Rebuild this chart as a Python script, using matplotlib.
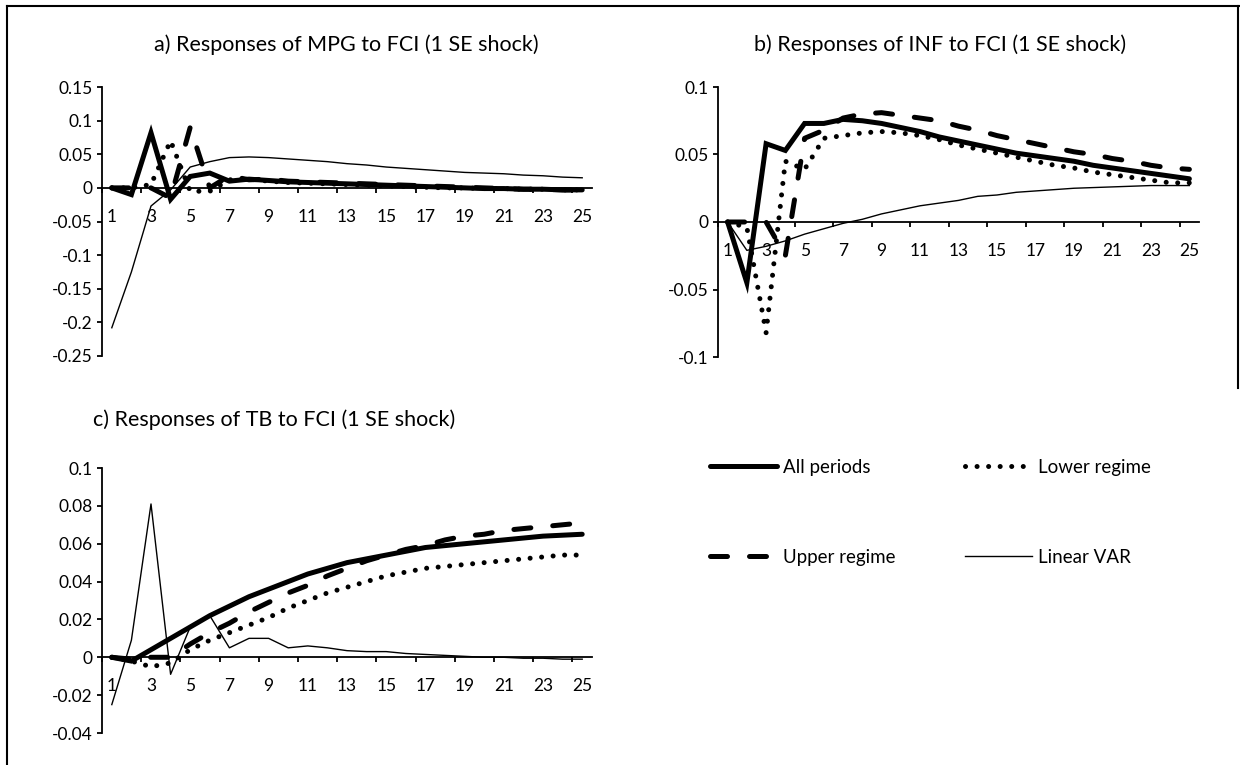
import numpy as np
import matplotlib.pyplot as plt
from matplotlib.lines import Line2D

plt.rcParams['font.family'] = ['Lato', 'DejaVu Sans']

periods = np.arange(1, 26)
xtick_labels = [str(p) for p in range(1, 26, 2)]

# a) MPG
all_a = [0, -0.01, 0.082, -0.017, 0.017, 0.022, 0.010, 0.013, 0.011, 0.009, 0.008, 0.007, 0.006,
         0.005, 0.004, 0.003, 0.002, 0.001, 0.000, -0.001, -0.001, -0.002, -0.002, -0.003, -0.003]
lower_a = [0, 0, 0.005, 0.070, -0.005, -0.005, 0.012, 0.013, 0.010, 0.008, 0.007, 0.006, 0.005,
           0.004, 0.003, 0.002, 0.001, 0.000, 0.000, -0.001, -0.001, -0.002, -0.002, -0.003, -0.003]
upper_a = [0, 0, 0, -0.015, 0.090, 0.000, 0.018, 0.012, 0.013, 0.010, 0.009, 0.008, 0.007,
           0.006, 0.005, 0.004, 0.003, 0.002, 0.001, 0.000, -0.001, -0.002, -0.002, -0.003, -0.003]
linear_a = [-0.208, -0.125, -0.027, -0.003, 0.031, 0.039, 0.045, 0.046, 0.045, 0.043, 0.041, 0.039, 0.036,
            0.034, 0.031, 0.029, 0.027, 0.025, 0.023, 0.022, 0.021, 0.019, 0.018, 0.016, 0.015]

# b) INF
all_b = [0, -0.045, 0.058, 0.053, 0.073, 0.073, 0.076, 0.075, 0.073, 0.070, 0.067, 0.063, 0.060,
         0.057, 0.054, 0.051, 0.049, 0.047, 0.045, 0.042, 0.040, 0.038, 0.036, 0.034, 0.032]
lower_b = [0, -0.004, -0.082, 0.045, 0.039, 0.062, 0.064, 0.066, 0.067, 0.066, 0.064, 0.061, 0.057,
           0.054, 0.051, 0.048, 0.045, 0.042, 0.040, 0.037, 0.035, 0.033, 0.031, 0.029, 0.029]
upper_b = [0, 0, 0, -0.025, 0.062, 0.068, 0.077, 0.080, 0.081, 0.079, 0.077, 0.075, 0.071,
           0.068, 0.064, 0.061, 0.058, 0.055, 0.052, 0.050, 0.047, 0.045, 0.042, 0.040, 0.039]
linear_b = [0, -0.021, -0.018, -0.014, -0.009, -0.005, -0.001, 0.002, 0.006, 0.009, 0.012, 0.014, 0.016,
            0.019, 0.020, 0.022, 0.023, 0.024, 0.025, 0.0255, 0.026, 0.0265, 0.027, 0.027, 0.027]

# c) TB
all_c = [0, -0.002, 0.004, 0.010, 0.016, 0.022, 0.027, 0.032, 0.036, 0.040, 0.044, 0.047, 0.050,
         0.052, 0.054, 0.056, 0.058, 0.059, 0.060, 0.061, 0.062, 0.063, 0.064, 0.0645, 0.065]
lower_c = [0, -0.002, -0.005, -0.003, 0.004, 0.009, 0.013, 0.017, 0.021, 0.026, 0.030, 0.034, 0.037,
           0.040, 0.043, 0.045, 0.047, 0.048, 0.049, 0.050, 0.051, 0.052, 0.053, 0.054, 0.054]
upper_c = [0, -0.001, 0, 0, 0.007, 0.013, 0.018, 0.024, 0.029, 0.034, 0.038, 0.043, 0.047,
           0.051, 0.054, 0.057, 0.059, 0.062, 0.064, 0.065, 0.067, 0.068, 0.069, 0.070, 0.071]
linear_c = [-0.025, 0.009, 0.081, -0.009, 0.016, 0.022, 0.005, 0.010, 0.010, 0.005, 0.006, 0.005, 0.0035,
            0.003, 0.003, 0.002, 0.0015, 0.001, 0.0005, 0.0, 0.0, -0.0005, -0.0005, -0.001, -0.001]

fig = plt.figure(figsize=(12.4, 7.65), dpi=100)

W, H = 1240, 765


def make_ax(x0, x1, ytop, ybot):
    return fig.add_axes([x0 / W, 1 - ybot / H, (x1 - x0) / W, (ybot - ytop) / H])


def style(ax, ylim, yticks):
    ax.set_xlim(0.5, 25.5)
    ax.set_ylim(*ylim)
    for s in ['top', 'right']:
        ax.spines[s].set_visible(False)
    ax.spines['bottom'].set_position(('data', 0))
    ax.spines['left'].set_linewidth(1.3)
    ax.spines['bottom'].set_linewidth(1.3)
    ax.set_yticks(yticks)
    ax.set_yticklabels([fmt(v) for v in yticks])
    ax.set_xticks(range(1, 26, 2))
    ax.set_xticklabels(xtick_labels)
    ax.set_xticks(np.arange(0.5, 25.6, 2), minor=True)
    ax.tick_params(axis='x', which='major', length=0, pad=15, labelsize=12.5)
    ax.tick_params(axis='x', which='minor', length=3.6, width=1.3, direction='out')
    ax.tick_params(axis='y', length=3.6, width=1.3, direction='out', labelsize=12.5, pad=3)
    ax.patch.set_alpha(0)


def draw(ax, a, lo, up, lin):
    ax.plot(periods, lin, color='black', lw=1.0, label='Linear VAR', zorder=2)
    ax.plot(periods, lo, color='black', lw=3.6, dashes=(0.01, 2.3), dash_capstyle='round',
            label='Lower regime', zorder=3)
    ax.plot(periods, up, color='black', lw=3.6, dashes=(3.4, 4.4), dash_capstyle='round',
            label='Upper regime', zorder=3)
    ax.plot(periods, a, color='black', lw=3.6, solid_capstyle='round', solid_joinstyle='miter',
            label='All periods', zorder=4)


def fmt(v):
    if abs(v) < 1e-9:
        return '0'
    return ('%g' % round(v, 3))


ax_a = make_ax(102, 592, 87, 356)
style(ax_a, (-0.25, 0.15), np.arange(-0.25, 0.151, 0.05))
draw(ax_a, all_a, lower_a, upper_a, linear_a)

ax_b = make_ax(718, 1199, 87, 357)
style(ax_b, (-0.1, 0.1), np.arange(-0.1, 0.101, 0.05))
draw(ax_b, all_b, lower_b, upper_b, linear_b)

ax_c = make_ax(102, 592, 468, 733)
style(ax_c, (-0.04, 0.1), np.arange(-0.04, 0.101, 0.02))
draw(ax_c, all_c, lower_c, upper_c, linear_c)

fig.text(346 / W, 1 - 45 / H, 'a) Responses of MPG to FCI (1 SE shock)', ha='center', va='center', fontsize=15.5)
fig.text(940 / W, 1 - 45 / H, 'b) Responses of INF to FCI (1 SE shock)', ha='center', va='center', fontsize=15.5)
fig.text(274 / W, 1 - 420 / H, 'c) Responses of TB to FCI (1 SE shock)', ha='center', va='center', fontsize=15.5)

# legend
h, l = ax_c.get_legend_handles_labels()
order = [3, 2, 1, 0]
fig.legend([h[i] for i in order], [l[i] for i in order], ncol=2, frameon=False,
           loc='upper left', bbox_to_anchor=(693 / W, 1 - 442 / H), fontsize=13.5,
           handlelength=3.6, handletextpad=0.3, labelspacing=3.9, columnspacing=3.7)

# outer frame
fig.add_artist(Line2D([7 / W, 7 / W], [0, 1 - 6 / H], color='black', lw=1.5))
fig.add_artist(Line2D([7 / W, 1], [1 - 6 / H, 1 - 6 / H], color='black', lw=1.5))
fig.add_artist(Line2D([1238 / W, 1238 / W], [1 - 388 / H, 1 - 6 / H], color='black', lw=1.5))

fig.savefig('out.png', dpi=100)
